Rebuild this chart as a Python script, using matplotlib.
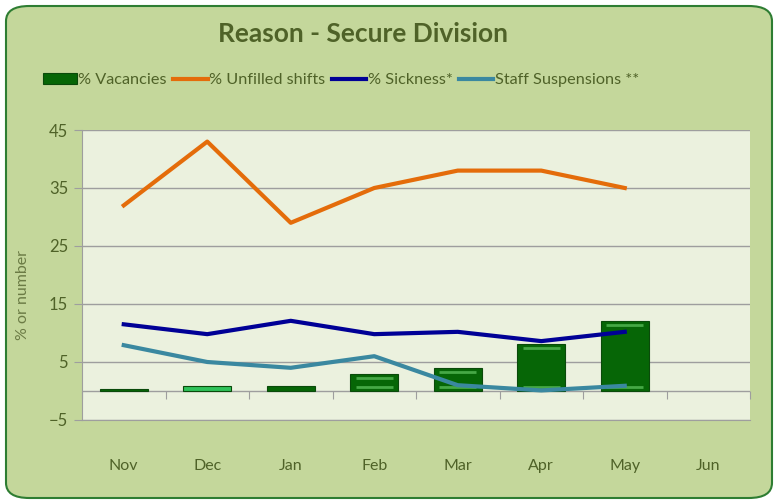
import numpy as np
import matplotlib.pyplot as plt
from matplotlib.patches import FancyBboxPatch

months = ['Nov', 'Dec', 'Jan', 'Feb', 'Mar', 'Apr', 'May', 'Jun']
vacancies = [0.4, 0.9, 0.8, 2.9, 4.0, 8.1, 12.0]
unfilled = [32, 43, 29, 35, 38, 38, 35]
sickness = [11.5, 9.8, 12.1, 9.8, 10.2, 8.6, 10.2]
suspensions = [7.9, 5.0, 4.0, 6.0, 1.0, 0.1, 0.9]
bar_colors = ['#066606', '#2FC25A', '#066606', '#066606', '#066606', '#066606', '#066606']

TXT = '#4F6228'
plt.rcParams['font.family'] = ['Lato', 'DejaVu Sans']

fig = plt.figure(figsize=(7.78, 5.04), dpi=100)
fig.patch.set_facecolor('white')
frame = FancyBboxPatch((6 / 778, 6 / 504), 766 / 778, 492 / 504,
                       boxstyle='round,pad=0,rounding_size=0.03',
                       transform=fig.transFigure, facecolor='#C4D79B',
                       edgecolor='#2E7D32', linewidth=1.5, zorder=-5)
fig.patches.append(frame)

ax = fig.add_axes([82 / 778, 84 / 504, 668 / 778, 290 / 504])
ax.set_zorder(2)
ax.set_facecolor('#EBF1DE')

x = np.arange(len(vacancies))
bars = ax.bar(x, vacancies, width=0.58, color=bar_colors, edgecolor='#0A4A0A',
              linewidth=0.8, zorder=2, label='% Vacancies')
v = np.array(vacancies)
big = v > 2
ax.hlines(v[big] - 0.7, x[big] - 0.22, x[big] + 0.22, color='#45A845', lw=2, zorder=3)
ax.hlines(np.full(big.sum(), 0.7), x[big] - 0.22, x[big] + 0.22, color='#45A845', lw=2, zorder=3)

l1, = ax.plot(x, unfilled, color='#E46C0A', lw=3, zorder=4, label='% Unfilled shifts')
l2, = ax.plot(x, sickness, color='#000096', lw=3, zorder=4, label='% Sickness*')
l3, = ax.plot(x, suspensions, color='#3A88A0', lw=3, zorder=4, label='Staff Suspensions **')

ax.set_xlim(-0.5, len(months) - 0.5)
ax.set_ylim(-5, 45)
ax.set_yticks([-5, 5, 15, 25, 35, 45])
ax.grid(axis='y', color='#9E9E9E', lw=1)
ax.axhline(0, color='#9E9E9E', lw=1, zorder=1)
ax.set_axisbelow(True)

ax.set_xticks(np.arange(len(months)))
ax.set_xticklabels(months)
ax.tick_params(axis='x', length=0, pad=28, colors=TXT, labelsize=11.5)
ax.tick_params(axis='y', length=6, color='#9E9E9E', labelcolor=TXT, labelsize=12, pad=4)

sec = ax.secondary_xaxis(0.1)
sec.set_xticks(np.arange(len(months) + 1) - 0.5)
sec.tick_params(axis='x', length=6, color='#9E9E9E', labelbottom=False)
sec.spines['bottom'].set_visible(False)

for s in ['top', 'right']:
    ax.spines[s].set_visible(False)
for s in ['left', 'bottom']:
    ax.spines[s].set_color('#9E9E9E')

ax.set_ylabel('% or number', color='#6B7B45', fontsize=11.5)
ax.yaxis.set_label_coords(-0.078, 0.43)

fig.text(0.466, 0.933, 'Reason - Secure Division', ha='center', va='center',
         fontsize=19, fontweight='bold', color=TXT)

fig.legend([bars, l1, l2, l3], [bars.get_label(), l1.get_label(), l2.get_label(), l3.get_label()],
           loc='center left', bbox_to_anchor=(28 / 778, 1 - 80 / 504), ncol=4,
           frameon=False, fontsize=11.7, handlelength=2.1, handletextpad=0.1,
           columnspacing=0.4, labelcolor=TXT)

fig.savefig('out.png', dpi=100)
